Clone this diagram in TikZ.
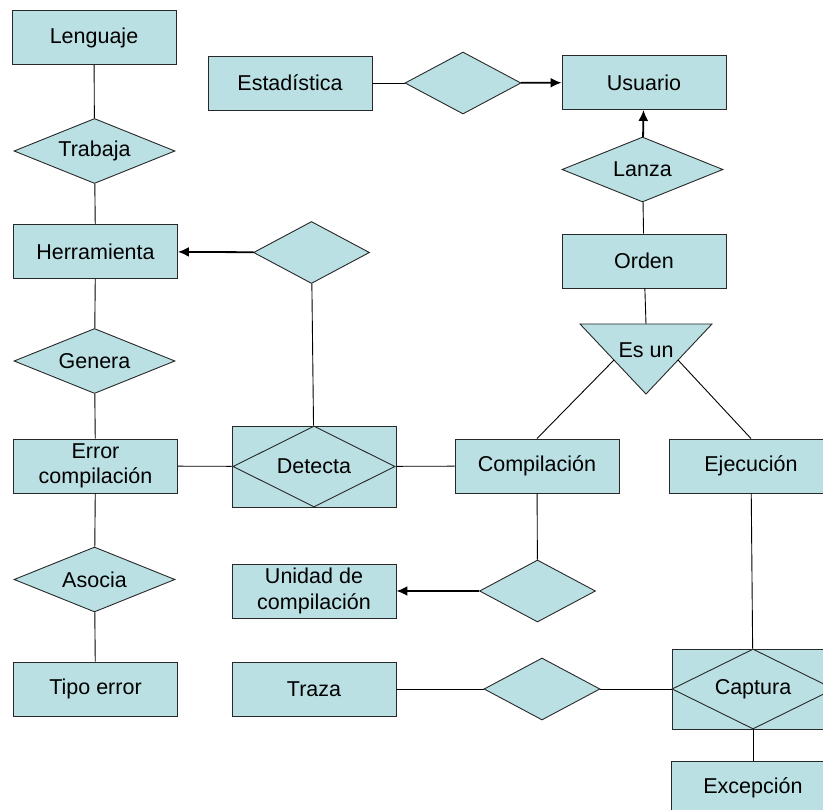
\documentclass[tikz,border=0pt]{standalone}
\usepackage{fontspec}
\setmainfont{Liberation Sans}
\usepackage{tikz}
\usetikzlibrary{positioning,shapes,arrows.meta}
\definecolor{erfill}{RGB}{186,224,227}
\definecolor{erline}{RGB}{40,40,40}

\begin{document}
\begin{tikzpicture}
            [x=1pt,y=-1pt,every node/.style={draw=erline, fill=erfill, line width=0.9pt, inner sep=0pt, align=center, font=\fontsize{21.5}{25.5}\selectfont},
             entity/.style={rectangle, minimum width=164pt, minimum height=54pt},
             rel/.style={diamond, aspect=2.5, minimum width=161pt, minimum height=65pt},
             srel/.style={diamond, aspect=2, minimum width=116pt, minimum height=62pt},
             link/.style={line width=0.9pt, draw=black},
             isa/.style={line width=1.8pt, draw=black, -{Latex[length=11pt,width=10pt]}}]
          \useasboundingbox (0,0) rectangle (823,810);

          \node[entity] (n1) at (94,37.5) {Lenguaje};
          \node[rel] (n2) at (94.5,151) {Trabaja};
          \node[entity] (n3) at (95.5,251.5) {Herramienta};
          \node[rel] (n4) at (94.5,361) {Genera};
          \node[entity] (n5) at (95.5,466) {Error\\compilación};
          \node[rel] (n6) at (94.5,579.5) {Asocia};
          \node[entity] (n7) at (95.5,689) {Tipo error};

          \node[entity] (n8) at (290,83) {Estadística};
          \node[srel] (n9) at (463,83) {};
          \node[entity] (n10) at (644,82.5) {Usuario};
          \node[rel] (n11) at (642.5,169.5) {Lanza};
          \node[entity] (n12) at (644,261) {Orden};

          \node[srel] (n13) at (311.5,252.5) {};
          \node[entity, minimum height=81pt] (n14) at (314,466.5) {};
          \node[diamond, aspect=2, minimum width=162pt, minimum height=81pt] (n14d) at (314,466.5) {Detecta};
          \node[entity] (n15) at (537,466) {Compilación};
          \node[entity] (n16) at (751,466) {Ejecución};

          \node[srel] (n17) at (537.5,591) {};
          \node[entity] (n18) at (314,591) {Unidad de\\compilación};
          \node[entity] (n19) at (314,689) {Traza};
          \node[srel] (n20) at (542,689) {};
          \node[entity, minimum width=162pt, minimum height=80pt] (n21) at (753,689) {};
          \node[diamond, aspect=2, minimum width=162pt, minimum height=80pt] (n21d) at (753,689) {Captura};
          \node[entity] (n22) at (753,788) {Excepción};

          % Es un
          \coordinate (t1) at (580,324);
          \coordinate (t2) at (712,324);
          \coordinate (t3) at (646,394);
          \coordinate (top) at (646,324);
          \coordinate (tl) at (614,360);
          \coordinate (tr) at (678,360);
          \draw[fill=erfill, draw=erline, line width=0.9pt] (t1) -- (t2) -- (t3) -- cycle;
          \node[draw=none, fill=none] (esun) at (646,350) {Es un};

          \foreach \from/\to in {n1/n2, n2/n3, n3/n4, n4/n5, n5/n6, n6/n7, n8/n9, n12/n11, n13/n14, n5/n14, n14/n15, n15/n17, n16/n21, n19/n20, n20/n21, n21/n22, n12/top}
            \draw[link] (\from) -- (\to);

          \draw[link] (tl) -- (n15.north);
          \draw[link] (tr) -- (n16.north);

          \foreach \from/\to in {n9/n10, n11/n10, n13/n3, n17/n18}
            \draw[isa] (\from) -- (\to);
        \end{tikzpicture}
\end{document}
